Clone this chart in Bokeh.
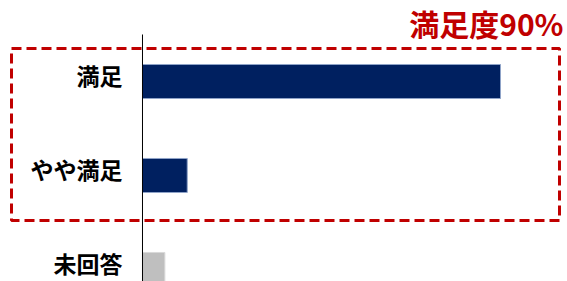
from bokeh.plotting import figure
from bokeh.models import Range1d, BoxAnnotation, Label, ColumnDataSource
from bokeh.embed import file_html
from bokeh.resources import INLINE
from bokeh.core.properties import value

categories = ["満足", "やや満足", "未回答"]
values = [80, 10, 5]
colors = ["#002060", "#002060", "#BFBFBF"]
edge_colors = ["#8FA3C8", "#8FA3C8", "#D9D9D9"]
headline = "満足度90%"

ypos = [2, 1, 0]
src = ColumnDataSource(dict(y=ypos, v=values, c=colors, e=edge_colors, cat=categories,
                            zero=[0, 0, 0]))

Y0, Y1 = -0.1277, 2.8617
p = figure(width=567, height=281, output_backend="svg", toolbar_location=None,
           x_range=Range1d(-31.73, 94.97), y_range=Range1d(Y0, Y1),
           min_border=0)
p.axis.visible = False
p.grid.visible = False
p.outline_line_color = None

p.hbar(y="y", left=0, right="v", height=0.362, fill_color="c", line_color="e",
       line_width=1, source=src)

# category axis: line and labels
p.segment(x0=0, y0=Y0, x1=0, y1=2.5, line_color="black", line_width=1)
p.text(x="zero", y="y", text="cat", source=src, x_offset=-20, y_offset=-6,
       text_align="right", text_baseline="middle", text_color="black",
       text_font=value("Noto Sans CJK JP"), text_font_style="bold", text_font_size="23px")

box = BoxAnnotation(left=11, right=559, top=48, bottom=220,
                    left_units="canvas", right_units="canvas",
                    top_units="canvas", bottom_units="canvas",
                    fill_alpha=0, line_color="#C00000", line_alpha=1.0,
                    line_width=3, line_dash="10 5")
p.add_layout(box)

lab = Label(x=563, y=0, x_units="canvas", y_units="canvas", text=headline,
            text_align="right", text_baseline="top", text_color="#C00000",
            text_font="Noto Sans CJK JP", text_font_style="bold", text_font_size="30px")
p.add_layout(lab)

open("out.html", "w").write(file_html(p, INLINE))
